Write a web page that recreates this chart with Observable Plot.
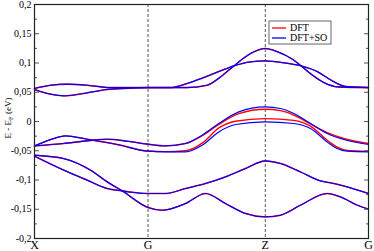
<!DOCTYPE html>
<html><head><meta charset="utf-8">
<script src="https://cdn.jsdelivr.net/npm/d3@7"></script>
<script src="https://cdn.jsdelivr.net/npm/@observablehq/plot@0.6"></script>
<style>
body{margin:0;background:#fff}
</style>
</head><body><div id="chart"></div>
<script>
// k-path positions and labels
const kTicks = [0, 0.34, 0.691, 1];
const kLabels = ["X", "G", "Z", "G"];
const yTicks = [-0.2, -0.15, -0.1, -0.05, 0, 0.05, 0.1, 0.15, 0.2];
const yLabels = ["-0,2", "-0,15", "-0,1", "-0,05", "0", "0,05", "0,1", "0,15", "0,2"];
const yMinor = [-0.175, -0.125, -0.075, -0.025, 0.025, 0.075, 0.125, 0.175];
const seriesNames = ["DFT", "DFT+SO"];

// DFT+SO bands [k, E-EF]
const soTopA = [[0,0.0564],[0.0479,0.062],[0.0979,0.0638],[0.1578,0.062],[0.2275,0.058],[0.2874,0.058],[0.34,0.058],[0.4072,0.058],[0.4572,0.058],[0.5171,0.062],[0.5569,0.0762],[0.5967,0.095],[0.6467,0.1162],[0.691,0.1248],[0.7284,0.119],[0.7686,0.1077],[0.7985,0.095],[0.8284,0.0809],[0.8683,0.066],[0.9081,0.0591],[1,0.058]];
const soTopB = [[0,0.0547],[0.0479,0.0467],[0.0877,0.0438],[0.1476,0.0479],[0.2177,0.0547],[0.2874,0.0569],[0.34,0.058],[0.4072,0.058],[0.4572,0.065],[0.5069,0.0752],[0.5569,0.0865],[0.5967,0.095],[0.6467,0.1019],[0.691,0.1036],[0.7485,0.1002],[0.7985,0.095],[0.8482,0.0848],[0.8883,0.0706],[0.9281,0.0603],[1,0.058]];
const soMidC = [[0,-0.0417],[0.0877,-0.0376],[0.1578,-0.033],[0.2177,-0.0303],[0.2814,-0.034],[0.34,-0.0388],[0.3922,-0.0417],[0.4521,-0.0376],[0.5021,-0.0234],[0.5518,-0.0034],[0.6117,0.0164],[0.691,0.025],[0.7365,0.0222],[0.7763,0.0137],[0.8263,-0.0034],[0.8763,-0.0205],[0.926,-0.0308],[1,-0.0393]];
const soMidD = [[0,-0.0417],[0.0479,-0.031],[0.0928,-0.0246],[0.1578,-0.0303],[0.2476,-0.0393],[0.34,-0.0508],[0.3922,-0.052],[0.4521,-0.052],[0.5021,-0.0405],[0.5518,-0.0178],[0.6018,-0.0051],[0.691,-0.0007],[0.7763,-0.0034],[0.8263,-0.012],[0.8763,-0.0349],[0.9063,-0.0462],[0.9362,-0.0508],[1,-0.052]];
const soBotE1 = [[0,-0.0576],[0.0877,-0.0634],[0.1677,-0.0832],[0.2177,-0.1032],[0.2626,-0.1186],[0.34,-0.147],[0.3823,-0.1517],[0.4521,-0.1402],[0.512,-0.1231],[0.5719,-0.1402],[0.6317,-0.1573],[0.691,-0.1631],[0.7365,-0.1602],[0.7964,-0.1431],[0.8763,-0.1231],[0.9162,-0.1289],[0.9662,-0.1431],[1,-0.150]];
const soBotE2 = [[0,-0.0593],[0.0877,-0.0832],[0.1578,-0.1003],[0.2177,-0.1145],[0.2626,-0.1186],[0.2994,-0.1214],[0.34,-0.1231],[0.3922,-0.1231],[0.4521,-0.1145],[0.512,-0.106],[0.5719,-0.0947],[0.6317,-0.0803],[0.691,-0.0674],[0.7365,-0.0718],[0.7964,-0.0862],[0.8563,-0.1015],[0.8961,-0.106],[0.9362,-0.1118],[1,-0.1231]];

// DFT bands that split from the SO ones near Z
const dftMidC = [[0,-0.0417],[0.0877,-0.0376],[0.1578,-0.033],[0.2177,-0.0303],[0.2814,-0.034],[0.34,-0.0388],[0.3922,-0.0417],[0.4521,-0.0376],[0.5021,-0.0240],[0.5518,-0.005],[0.6117,0.0135],[0.691,0.021],[0.7365,0.0185],[0.7763,0.011],[0.8263,-0.004],[0.8763,-0.019],[0.926,-0.029],[1,-0.0375]];
const dftMidD = [[0,-0.0417],[0.0479,-0.031],[0.0928,-0.0246],[0.1578,-0.0303],[0.2476,-0.0393],[0.34,-0.0505],[0.3922,-0.0515],[0.4521,-0.050],[0.5021,-0.037],[0.5518,-0.011],[0.6018,0.0005],[0.691,0.005],[0.7763,0.002],[0.8263,-0.008],[0.8763,-0.032],[0.9063,-0.044],[0.9362,-0.0495],[1,-0.051]];

const soBands = [soTopA, soTopB, soMidC, soMidD, soBotE1, soBotE2];
const dftBands = [soTopA, soTopB, dftMidC, dftMidD, soBotE1, soBotE2];

const toRows = (bands, series) => bands.flatMap((b, i) => b.map(([k, e]) => ({k, e, band: i, series})));
const dftRows = toRows(dftBands, seriesNames[0]);
const soRows = toRows(soBands, seriesNames[1]);

const SERIF = "Liberation Serif";
const W = 374, H = 251;
const chart = Plot.plot({
  width: W, height: H,
  marginLeft: 34, marginRight: 6, marginTop: 4, marginBottom: 13,
  style: {fontSize: "10px", background: "white"},
  x: {domain: [0, 1]},
  y: {domain: [-0.2, 0.2]},
  marks: [
    Plot.ruleX([kTicks[1], kTicks[2]], {stroke: "#444", strokeDasharray: "3,2", strokeWidth: 0.9}),
    Plot.line(dftRows, {x: "k", y: "e", z: "band", stroke: "#ff0000", strokeWidth: 1.4, curve: "monotone-x"}),
    Plot.line(soRows, {x: "k", y: "e", z: "band", stroke: "#0000ff", strokeWidth: 1.2, curve: "monotone-x"}),
    Plot.axisX({ticks: kTicks, tickFormat: (d, i) => kLabels[i], tickSize: 0, tickPadding: 2, fontSize: 12, fontFamily: SERIF, label: null}),
    Plot.axisY({ticks: yTicks, tickFormat: (d, i) => yLabels[i], tickSize: 0, tickPadding: 3, fontSize: 10, fontFamily: SERIF, label: null}),
    Plot.axisY({ticks: yTicks, anchor: "left", tickSize: -5, tickFormat: () => "", label: null, stroke: "#555"}),
    Plot.axisY({ticks: yTicks, anchor: "right", tickSize: -5, tickFormat: () => "", label: null, stroke: "#555"}),
    Plot.axisY({ticks: yMinor, anchor: "left", tickSize: -3, tickFormat: () => "", label: null, stroke: "#555"}),
    Plot.axisY({ticks: yMinor, anchor: "right", tickSize: -3, tickFormat: () => "", label: null, stroke: "#555"}),
    Plot.frame({stroke: "#222", strokeWidth: 1.2})
  ]
});
document.getElementById("chart").appendChild(chart);

const svg = d3.select(chart);
// y-axis title with subscript
const yl = svg.append("text")
  .attr("transform", "translate(11,118) rotate(-90)")
  .attr("text-anchor", "middle")
  .attr("font-size", 9).attr("fill", "black");
yl.append("tspan").text("E - E");
yl.append("tspan").attr("font-size", 6.5).attr("dy", 2).text("F");
yl.append("tspan").attr("dy", -2).text(" (eV)");

// legend
const lg = svg.append("g").attr("font-size", 10).attr("text-anchor", "start");
lg.append("rect").attr("x", 269).attr("y", 21).attr("width", 62).attr("height", 23)
  .attr("fill", "white").attr("stroke", "#666").attr("stroke-width", 1);
[["#ff0000", seriesNames[0], 28], ["#0000ff", seriesNames[1], 38]].forEach(([c, t, y]) => {
  lg.append("line").attr("x1", 272).attr("x2", 286).attr("y1", y).attr("y2", y).attr("stroke", c).attr("stroke-width", 1.3);
  lg.append("text").attr("x", 290).attr("y", y + 3).attr("text-anchor", "start").text(t);
});
svg.selectAll("text").attr("font-family", SERIF).style("font-family", SERIF);
</script>
</body></html>
